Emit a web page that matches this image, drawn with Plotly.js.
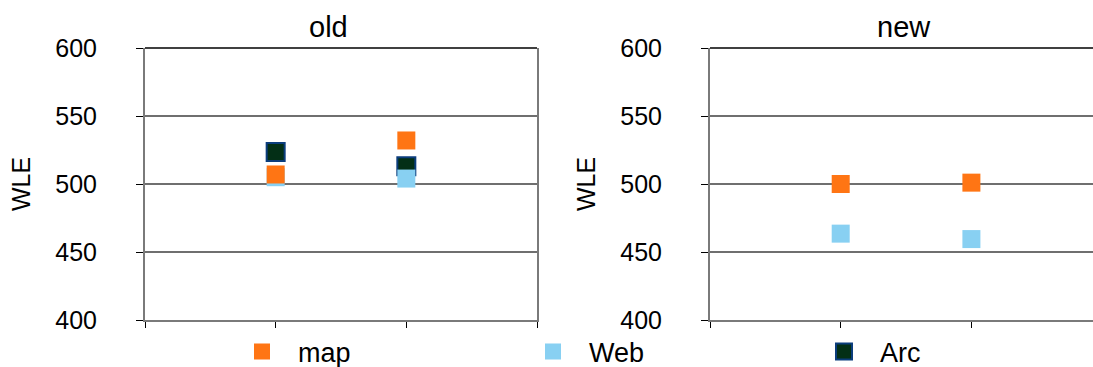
<!DOCTYPE html>
<html>
<head>
<meta charset="utf-8">
<script src="https://cdn.plot.ly/plotly-3.0.1.min.js"></script>
<style>html,body{margin:0;padding:0;background:#fff;overflow:hidden}</style>
</head>
<body>
<div id="chart" style="width:1093px;height:367px"></div>
<script>
// Data
const panels = ['old', 'new'];
const xPositions = [1, 2];
const seriesNames = ['map', 'Web', 'Arc'];
const mapOld = [507, 532];
const webOld = [505, 504];
const arcOld = [523.5, 513];
const mapNew = [500, 501];
const webNew = [463.5, 459.5];
const arcNew = [null, null];
const yTicks = [400, 450, 500, 550, 600];

const colors = {map: '#ff7514', Web: '#88d0f2', Arc: '#032f16'};
const W = 1093, H = 367;
const px = v => v / W;

function mk(name, x, y, xa, ya, show) {
  const m = {size: 18, symbol: 'square', color: colors[name], line: {width: 0}};
  if (name === 'Arc') m.line = {width: 2, color: '#0b3d7c'};
  return {
    type: 'scatter', mode: 'markers', name: name, x: x, y: y,
    xaxis: xa, yaxis: ya, marker: m, showlegend: show, legendgroup: name,
    legendrank: seriesNames.indexOf(name) + 1, cliponaxis: false
  };
}

const data = [
  mk('Arc', xPositions, arcOld, 'x', 'y', true),
  mk('Web', xPositions, webOld, 'x', 'y', true),
  mk('map', xPositions, mapOld, 'x', 'y', true),
  mk('Arc', xPositions, arcNew, 'x2', 'y2', false),
  mk('Web', xPositions, webNew, 'x2', 'y2', false),
  mk('map', xPositions, mapNew, 'x2', 'y2', false)
];

const font = {family: 'Liberation Sans, Arial, sans-serif', color: '#000'};
function xaxis(dom, range) {
  return {
    domain: dom, range: range, showgrid: false, zeroline: false,
    showline: true, linecolor: '#7a7a7a', linewidth: 2,
    ticks: 'outside', ticklen: 6, tickcolor: '#000', tickwidth: 1,
    tickvals: [0, 1, 2, 3], showticklabels: false, fixedrange: true
  };
}
function yaxis(anchor) {
  return {
    anchor: anchor, domain: [0, 1], range: [400, 600],
    tickvals: yTicks, ticktext: yTicks.map(String),
    showgrid: true, gridcolor: '#6f6f6f', gridwidth: 1.6,
    showline: true, linecolor: '#7a7a7a', linewidth: 2, mirror: true,
    ticks: 'outside', ticklen: 7, tickcolor: '#000', tickwidth: 1,
    ticklabelstandoff: 34,
    tickfont: Object.assign({size: 25}, font), zeroline: false,
    title: {text: 'WLE', font: Object.assign({size: 25}, font), standoff: 18},
    fixedrange: true
  };
}

const layout = {
  width: W, height: H,
  margin: {l: 0, r: 0, t: 48, b: 47},
  paper_bgcolor: '#fff', plot_bgcolor: '#fff',
  font: font,
  showlegend: true,
  xaxis: xaxis([px(145), px(537)], [0, 3]),
  yaxis: yaxis('x'),
  xaxis2: xaxis([px(710), 1], [0, (1093 - 710) / 130.7]),
  yaxis2: yaxis('x2'),
  legend: {
    orientation: 'h', xref: 'container', yref: 'container',
    x: px(226), xanchor: 'left', y: 15 / H, yanchor: 'middle',
    entrywidth: 214, entrywidthmode: 'pixels', itemwidth: 62,
    font: Object.assign({size: 27}, font), bgcolor: 'rgba(0,0,0,0)',
    traceorder: 'normal'
  },
  annotations: [
    {text: panels[0], xref: 'paper', yref: 'paper', x: px(328), y: 1, yshift: 21,
     xanchor: 'center', yanchor: 'middle', showarrow: false, font: Object.assign({size: 29}, font)},
    {text: panels[1], xref: 'paper', yref: 'paper', x: px(904), y: 1, yshift: 21,
     xanchor: 'center', yanchor: 'middle', showarrow: false, font: Object.assign({size: 29}, font)}
  ],
  shapes: [
    {type: 'line', xref: 'paper', yref: 'paper', x0: px(145), x1: px(537), y0: 1, y1: 1, line: {color: '#000', width: 1.5}},
    {type: 'line', xref: 'paper', yref: 'paper', x0: px(710), x1: 1, y0: 1, y1: 1, line: {color: '#000', width: 1.5}}
  ]
};

Plotly.newPlot('chart', data, layout, {displayModeBar: false, staticPlot: true});
</script>
</body>
</html>
